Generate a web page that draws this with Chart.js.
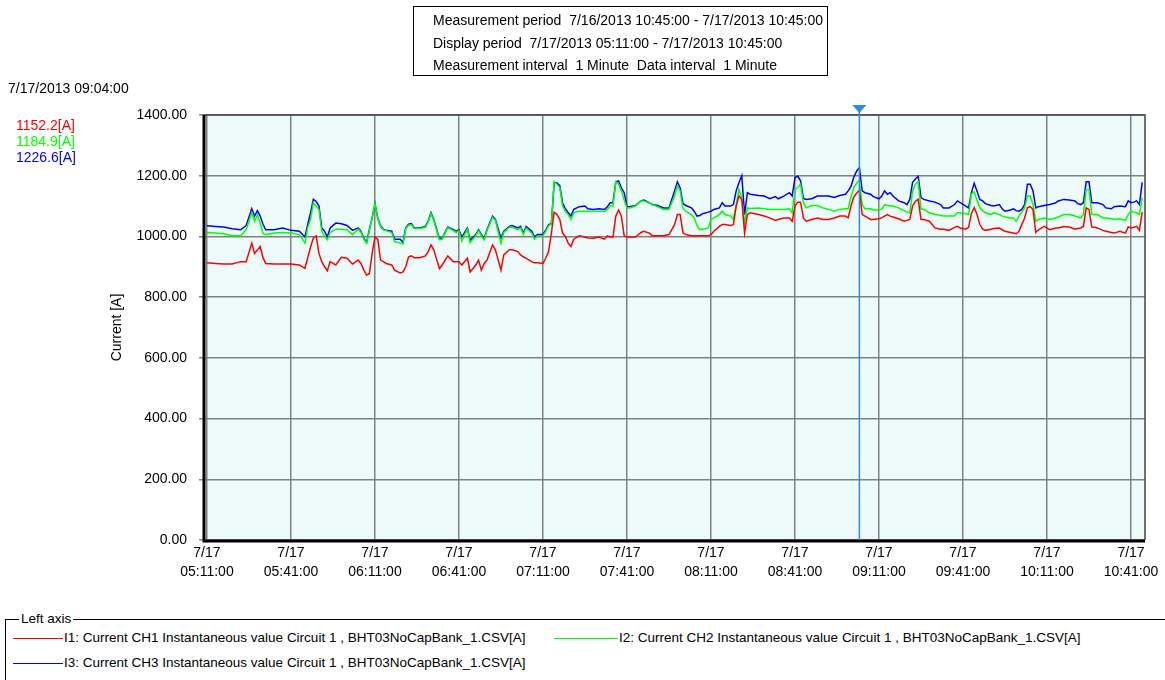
<!DOCTYPE html>
<html>
<head>
<meta charset="utf-8">
<title>Current trend 7/17/2013</title>
<script src="https://cdn.jsdelivr.net/npm/chart.js@4.4.0/dist/chart.umd.min.js"></script>
<style>
  body { margin: 0; background: #fff; font-family: "Liberation Sans", Arial, sans-serif; font-size: 14px; color: #000; }
  #wrap { position: relative; width: 1165px; height: 680px; overflow: hidden; }
  #chart { position: absolute; left: 0; top: 0; }
  #info { position: absolute; left: 413px; top: 6px; width: 415px; height: 70px; border: 1px solid #000; box-sizing: border-box; padding: 2px 0 0 19px; line-height: 22.5px; white-space: nowrap; }
  #stamp { position: absolute; left: 8px; top: 80px; }
  #readout { position: absolute; left: 16px; top: 117px; line-height: 16px; }
  #legend { position: absolute; left: 5px; top: 619px; width: 1200px; height: 100px; border-top: 1px solid #000; border-left: 1px solid #000; font-size: 13.5px; }
  #legend .cap { position: absolute; left: 13px; top: -9px; background: #fff; padding: 0 2px; line-height: 16px; }
  .item { position: absolute; white-space: nowrap; line-height: 16px; }
  .item .sw { display: inline-block; height: 1px; vertical-align: middle; margin-right: 1px; }
</style>
</head>
<body>
<div id="wrap">
  <canvas id="chart" width="1165" height="600"></canvas>
  <div id="info">
    <div>Measurement period&nbsp; 7/16/2013 10:45:00 - 7/17/2013 10:45:00</div>
    <div>Display period&nbsp; 7/17/2013 05:11:00 - 7/17/2013 10:45:00</div>
    <div>Measurement interval&nbsp; 1 Minute&nbsp; Data interval&nbsp; 1 Minute</div>
  </div>
  <div id="stamp"></div>
  <div id="readout"></div>
  <div id="legend"><span class="cap">Left axis</span></div>
</div>
<script>
// minutes after 7/17 05:11:00 (1 minute data)
var minutes = [
  0, 3, 6, 9, 12, 14, 16, 17, 18, 19, 20, 21, 24, 27, 30, 33, 35, 36, 37, 38, 39, 40, 41, 42, 43, 44, 46, 48, 50, 52,
  54, 55, 56, 57, 58, 59, 60, 61, 62, 63, 64, 66, 67, 69, 70, 71, 72, 73, 74, 76, 78, 79, 80, 81, 83, 84, 86, 88, 89, 90, 91, 93, 94, 96, 97, 98, 99, 100, 102, 103, 105, 106, 108,
  109, 111, 112, 113, 114, 116, 117, 118, 120, 121, 122, 123, 124, 125, 126, 127, 128, 129, 130, 131, 133, 135, 136, 138, 140, 142, 143, 144, 145, 146, 147, 148, 149, 150, 151, 153, 155, 156, 158, 159, 161, 163,
  165, 167, 168, 169, 170, 171, 173, 174, 175, 176, 177, 179, 180, 181, 183, 184, 185, 187, 188, 189, 190, 191, 192, 193, 194, 197, 199, 201, 203, 204, 206, 208, 209, 210, 211, 212, 213, 214, 216, 218, 220,
  222, 224, 226, 228, 229, 230, 231, 232, 233, 234, 235, 237, 238, 240, 241, 242, 243, 244, 245, 247, 249, 250, 251, 252, 253, 254, 255, 256, 258, 260, 262, 263, 265, 267, 268, 269, 271, 272, 273, 274, 275,
  276, 277, 278, 280, 281, 283, 284, 285, 287, 288, 289, 290, 291, 292, 293, 294, 295, 296, 297, 299, 301, 303, 304, 306, 308, 310, 311, 312, 313, 314, 315, 316, 317, 318, 320, 321, 323, 324, 326, 328, 329, 330, 331, 332, 333, 334
];

// I1 (CH1), red
var i1 = [
  913, 911, 909, 909, 917, 917, 978, 944, 955, 967, 930, 911, 909, 909, 909, 906, 895, 930, 965, 995, 1002, 944, 917, 900, 887, 917, 906, 931, 928, 909,
  922, 911, 890, 872, 878, 944, 998, 990, 922, 917, 911, 906, 889, 880, 883, 900, 933, 936, 930, 930, 936, 950, 972, 956, 894, 906, 936, 917, 917, 917, 906, 928, 883, 906, 922, 889, 911, 922, 972, 956, 889, 939, 956,
  956, 950, 939, 933, 928, 917, 913, 913, 911, 928, 950, 1011, 1080, 1072, 1056, 1011, 1000, 978, 967, 991, 1002, 998, 995, 994, 998, 991, 1002, 998, 998, 1067, 1087, 1067, 1002, 998, 998, 998, 1013, 1017, 1011, 1002, 1002, 1002,
  1006, 1039, 1072, 1072, 1011, 1006, 1002, 1002, 1002, 1002, 1002, 1002, 1006, 1017, 1033, 1039, 1039, 1036, 1039, 1100, 1133, 1122, 1011, 1072, 1078, 1072, 1067, 1061, 1053, 1056, 1061, 1061, 1050, 1100, 1113, 1113, 1061, 1050, 1056, 1061, 1056,
  1056, 1061, 1067, 1067, 1061, 1100, 1130, 1142, 1152.2, 1072, 1067, 1056, 1056, 1058, 1061, 1067, 1072, 1067, 1064, 1058, 1050, 1053, 1056, 1100, 1116, 1122, 1056, 1056, 1050, 1028, 1024, 1024, 1020, 1030, 1033, 1028, 1024, 1030, 1075, 1095, 1072,
  1040, 1025, 1020, 1024, 1026, 1028, 1022, 1017, 1013, 1011, 1009, 1017, 1039, 1060, 1094, 1098, 1089, 1013, 1022, 1033, 1022, 1028, 1028, 1033, 1031, 1024, 1026, 1028, 1033, 1094, 1089, 1031, 1030, 1028, 1020, 1017, 1013, 1011, 1017, 1011, 1031, 1028, 1030, 1033, 1020, 1080
];

// I2 (CH2), green
var i2 = [
  1013, 1011, 1009, 1002, 1002, 1022, 1078, 1050, 1072, 1044, 1010, 1006, 1011, 1013, 1011, 1006, 978, 1030, 1056, 1111, 1100, 1089, 1017, 1000, 989, 1013, 1024, 1024, 1022, 1006,
  1024, 1013, 991, 978, 1019, 1060, 1108, 1058, 1032, 1022, 1019, 1013, 983, 978, 975, 1026, 1037, 1039, 1026, 1026, 1030, 1047, 1075, 1053, 989, 991, 1029, 1019, 1013, 1019, 985, 1024, 980, 1002, 1019, 1002, 989, 1019, 1063, 1053, 978, 1013, 1030,
  1030, 1022, 1028, 1006, 1028, 1011, 991, 1002, 1002, 1017, 1036, 1040, 1180, 1172, 1161, 1100, 1083, 1072, 1056, 1078, 1083, 1083, 1083, 1083, 1083, 1083, 1089, 1100, 1100, 1180, 1172, 1150, 1120, 1094, 1094, 1100, 1117, 1117, 1111, 1105, 1098, 1089,
  1089, 1133, 1167, 1150, 1092, 1083, 1072, 1061, 1036, 1022, 1024, 1028, 1056, 1061, 1072, 1083, 1072, 1067, 1056, 1105, 1155, 1128, 1044, 1094, 1092, 1094, 1091, 1089, 1089, 1089, 1089, 1091, 1078, 1155, 1161, 1172, 1111, 1094, 1102, 1102, 1094,
  1089, 1083, 1089, 1091, 1091, 1130, 1160, 1175, 1184.9, 1105, 1091, 1091, 1087, 1087, 1090, 1105, 1102, 1100, 1100, 1094, 1085, 1080, 1078, 1150, 1172, 1180, 1091, 1089, 1078, 1072, 1070, 1067, 1067, 1067, 1078, 1078, 1075, 1072, 1140, 1147, 1120,
  1095, 1085, 1078, 1072, 1078, 1072, 1067, 1064, 1061, 1061, 1050, 1067, 1080, 1094, 1133, 1133, 1105, 1050, 1056, 1061, 1056, 1061, 1064, 1072, 1072, 1067, 1064, 1061, 1072, 1155, 1155, 1072, 1072, 1072, 1061, 1061, 1058, 1056, 1058, 1053, 1072, 1083, 1080, 1078, 1072, 1128
];

// I3 (CH3), blue
var i3 = [
  1035, 1033, 1031, 1025, 1022, 1036, 1091, 1067, 1085, 1067, 1040, 1022, 1022, 1028, 1020, 1017, 998, 1040, 1078, 1122, 1115, 1100, 1028, 1017, 998, 1028, 1044, 1042, 1036, 1020,
  1028, 1017, 994, 980, 1022, 1062, 1108, 1061, 1035, 1024, 1020, 1017, 991, 991, 980, 1028, 1040, 1042, 1028, 1028, 1033, 1050, 1078, 1056, 994, 994, 1031, 1022, 1017, 1022, 998, 1028, 987, 1006, 1022, 1006, 994, 1022, 1067, 1056, 994, 1017, 1033,
  1036, 1028, 1033, 1011, 1033, 1017, 998, 1006, 1006, 1022, 1039, 1042, 1178, 1176, 1167, 1111, 1091, 1078, 1067, 1089, 1098, 1100, 1091, 1089, 1091, 1089, 1098, 1111, 1111, 1180, 1183, 1160, 1144, 1098, 1098, 1102, 1117, 1120, 1111, 1105, 1102, 1094,
  1094, 1150, 1180, 1160, 1108, 1102, 1094, 1083, 1067, 1069, 1075, 1080, 1083, 1089, 1094, 1111, 1100, 1100, 1105, 1150, 1178, 1200, 1072, 1144, 1139, 1135, 1133, 1124, 1131, 1124, 1133, 1144, 1133, 1194, 1198, 1183, 1125, 1122, 1124, 1133, 1133,
  1133, 1128, 1135, 1139, 1150, 1165, 1195, 1215, 1226.6, 1150, 1144, 1139, 1131, 1124, 1133, 1150, 1139, 1144, 1133, 1117, 1111, 1105, 1122, 1178, 1189, 1198, 1128, 1122, 1117, 1113, 1105, 1094, 1094, 1105, 1117, 1111, 1100, 1094, 1144, 1175, 1150,
  1122, 1117, 1108, 1102, 1100, 1105, 1091, 1083, 1087, 1091, 1085, 1083, 1089, 1105, 1172, 1172, 1150, 1094, 1098, 1102, 1105, 1110, 1117, 1122, 1120, 1117, 1108, 1105, 1111, 1180, 1180, 1111, 1111, 1111, 1105, 1094, 1091, 1098, 1100, 1098, 1117, 1111, 1113, 1117, 1105, 1178
];

var seriesLabels = [
  "I1: Current CH1 Instantaneous value Circuit 1 , BHT03NoCapBank_1.CSV[A]",
  "I2: Current CH2 Instantaneous value Circuit 1 , BHT03NoCapBank_1.CSV[A]",
  "I3: Current CH3 Instantaneous value Circuit 1 , BHT03NoCapBank_1.CSV[A]"
];
var seriesColors = ["#ff0000", "#00ff00", "#0000ff"];

var tickMinutes = [0, 30, 60, 90, 120, 150, 180, 210, 240, 270, 300, 330];
var tickDate = "7/17";
var tickTimes = ["05:11:00", "05:41:00", "06:11:00", "06:41:00", "07:11:00", "07:41:00",
  "08:11:00", "08:41:00", "09:11:00", "09:41:00", "10:11:00", "10:41:00"];
var yTicks = [0, 200, 400, 600, 800, 1000, 1200, 1400];

var cursorMinute = 233;
var cursorStamp = "7/17/2013 09:04:00";

function points(vals) {
  return minutes.map(function (m, i) {
    return { x: m, y: vals[i] };
  });
}

// background, frame and cursor line
var plotFrame = {
  id: "plotFrame",
  beforeDraw: function (chart) {
    var a = chart.chartArea;
    var ctx = chart.ctx;
    ctx.save();
    ctx.fillStyle = "#ecfbfa";
    ctx.fillRect(a.left, a.top, a.right - a.left, a.bottom - a.top);
    ctx.restore();
  },
  afterDatasetsDraw: function (chart) {
    var a = chart.chartArea;
    var ctx = chart.ctx;
    var x = chart.scales.x.getPixelForValue(cursorMinute);
    ctx.save();
    ctx.strokeStyle = "#444";
    ctx.lineWidth = 1.5;
    ctx.beginPath();
    ctx.moveTo(a.left, a.top);
    ctx.lineTo(a.right, a.top);
    ctx.lineTo(a.right, a.bottom);
    ctx.stroke();
    ctx.strokeStyle = "#000";
    ctx.lineWidth = 3;
    ctx.beginPath();
    ctx.moveTo(a.left - 1, a.top);
    ctx.lineTo(a.left - 1, a.bottom + 1);
    ctx.lineTo(a.right, a.bottom + 1);
    ctx.stroke();

    ctx.strokeStyle = "#2b8ce0";
    ctx.lineWidth = 1.5;
    ctx.beginPath();
    ctx.moveTo(x, a.top - 3);
    ctx.lineTo(x, a.bottom);
    ctx.stroke();
    ctx.fillStyle = "#2b8ce0";
    ctx.beginPath();
    ctx.moveTo(x - 7, a.top - 10);
    ctx.lineTo(x + 7, a.top - 10);
    ctx.lineTo(x, a.top - 2);
    ctx.closePath();
    ctx.fill();
    ctx.restore();
  }
};

var datasets = [i1, i2, i3].map(function (vals, k) {
  return {
    label: seriesLabels[k],
    data: points(vals),
    borderColor: seriesColors[k],
    backgroundColor: seriesColors[k],
    borderWidth: 1.5,
    pointRadius: 0,
    tension: 0,
    fill: false
  };
});

var ctx = document.getElementById("chart");
window.myChart = new Chart(ctx, {
  type: "line",
  data: { datasets: datasets },
  plugins: [plotFrame],
  options: {
    responsive: false,
    animation: false,
    layout: { padding: { left: 104, top: 115, right: 20, bottom: 8 } },
    plugins: {
      legend: { display: false },
      tooltip: { enabled: false }
    },
    scales: {
      x: {
        type: "linear",
        min: -0.7,
        max: 335,
        afterFit: function (scale) { scale.height = 52; },
        afterBuildTicks: function (scale) {
          scale.ticks = tickMinutes.map(function (m) { return { value: m }; });
        },
        border: { display: false },
        grid: { color: "#808080", lineWidth: 1.5, tickLength: 3, drawTicks: true },
        ticks: {
          autoSkip: false,
          maxRotation: 0,
          padding: 0,
          color: "#000",
          font: { family: "Liberation Sans, Arial, sans-serif", size: 14, lineHeight: 1.4 },
          callback: function (value, index) {
            return [tickDate, tickTimes[index]];
          }
        }
      },
      y: {
        min: 0,
        max: 1400,
        afterFit: function (scale) { scale.width = 101; },
        afterBuildTicks: function (scale) {
          scale.ticks = yTicks.map(function (v) { return { value: v }; });
        },
        border: { display: false },
        grid: { color: "#808080", lineWidth: 1.5, tickLength: 6 },
        title: {
          display: true,
          text: "Current [A]",
          color: "#000",
          padding: { top: 5, bottom: 0 },
          font: { family: "Liberation Sans, Arial, sans-serif", size: 14 }
        },
        ticks: {
          padding: 12,
          color: "#000",
          font: { family: "Liberation Sans, Arial, sans-serif", size: 14 },
          callback: function (value) { return value.toFixed(2); }
        }
      }
    }
  }
});

// cursor readout on the left
var at = minutes.indexOf(cursorMinute);
document.getElementById("stamp").textContent = cursorStamp;
var readout = document.getElementById("readout");
[i1, i2, i3].forEach(function (vals, k) {
  var d = document.createElement("div");
  d.style.color = seriesColors[k];
  d.textContent = vals[at].toFixed(1) + "[A]";
  readout.appendChild(d);
});

// legend box at the bottom
var legendPos = [[7, 10, 50], [548, 10, 64], [7, 35, 50]];
var legend = document.getElementById("legend");
seriesLabels.forEach(function (txt, k) {
  var it = document.createElement("div");
  it.className = "item";
  it.style.left = legendPos[k][0] + "px";
  it.style.top = legendPos[k][1] + "px";
  var sw = document.createElement("span");
  sw.className = "sw";
  sw.style.width = legendPos[k][2] + "px";
  sw.style.background = seriesColors[k];
  it.appendChild(sw);
  it.appendChild(document.createTextNode(txt));
  legend.appendChild(it);
});
</script>
</body>
</html>
